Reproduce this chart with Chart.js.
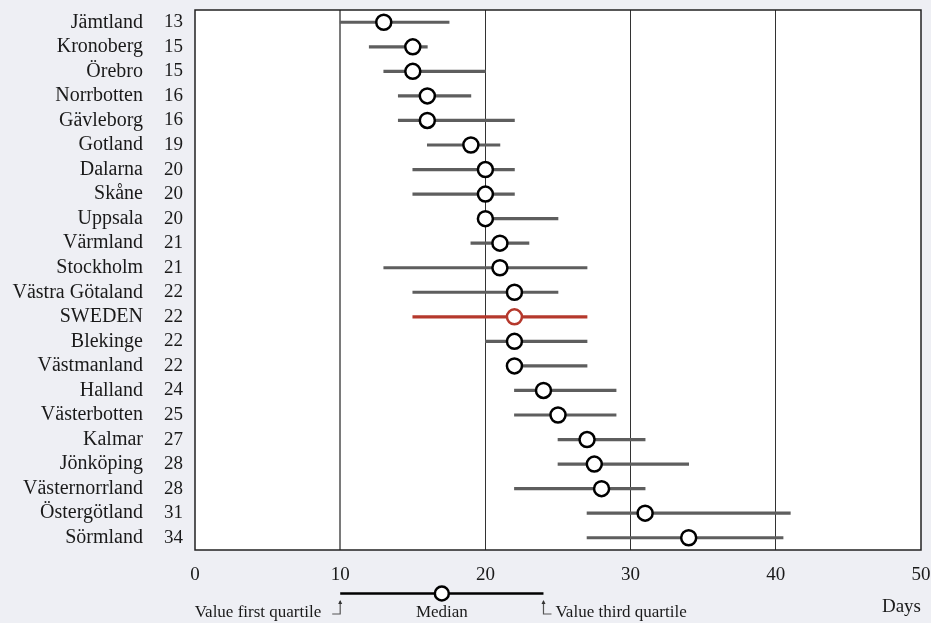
<!DOCTYPE html>
<html lang="sv">
<head>
<meta charset="UTF-8">
<title>Median days per region</title>
<script src="https://cdn.jsdelivr.net/npm/chart.js"></script>
<style>
  html, body { margin: 0; padding: 0; background: #eeeff4; }
  #wrap { width: 931px; height: 623px; }
</style>
</head>
<body>
<div id="wrap"><canvas id="chart"></canvas></div>
<script>
// data
const regions = ['Jämtland', 'Kronoberg', 'Örebro', 'Norrbotten', 'Gävleborg', 'Gotland', 'Dalarna', 'Skåne',
  'Uppsala', 'Värmland', 'Stockholm', 'Västra Götaland', 'SWEDEN', 'Blekinge', 'Västmanland', 'Halland',
  'Västerbotten', 'Kalmar', 'Jönköping', 'Västernorrland', 'Östergötland', 'Sörmland'];
const medianLabels = ['13', '15', '15', '16', '16', '19', '20', '20', '20', '21', '21', '22', '22', '22', '22',
  '24', '25', '27', '28', '28', '31', '34'];
const medians = [13, 15, 15, 16, 16, 19, 20, 20, 20, 21, 21, 22, 22, 22, 22, 24, 25, 27, 27.5, 28, 31, 34];
const q1 = [10, 12, 13, 14, 14, 16, 15, 15, 20, 19, 13, 15, 15, 20, 22, 22, 22, 25, 25, 22, 27, 27];
const q3 = [17.5, 16, 20, 19, 22, 21, 22, 22, 25, 23, 27, 25, 27, 27, 27, 29, 29, 31, 34, 31, 41, 40.5];
const xTicks = [0, 10, 20, 30, 40, 50];

// legend sample (first quartile, median, third quartile)
const legendValues = [10, 17, 24];

const FONT = 'Liberation Serif, Times New Roman, serif';
const RED = '#b5382c';
const INK = '#1a1a1a';

const isTotal = regions.map(r => r === 'SWEDEN');

const framePlugin = {
  id: 'frame',
  beforeDraw(chart) {
    const { ctx, chartArea: a } = chart;
    ctx.save();
    ctx.fillStyle = '#eeeff4';
    ctx.fillRect(0, 0, chart.width, chart.height);
    ctx.fillStyle = '#ffffff';
    ctx.fillRect(a.left, a.top, a.right - a.left, a.bottom - a.top);
    ctx.restore();
  },
  afterDraw(chart) {
    const { ctx, chartArea: a, scales } = chart;
    ctx.save();
    ctx.strokeStyle = '#222';
    ctx.lineWidth = 1.5;
    ctx.strokeRect(a.left, a.top, a.right - a.left, a.bottom - a.top);

    // legend under the axis
    const x = scales.x;
    const x1 = x.getPixelForValue(legendValues[0]);
    const xm = x.getPixelForValue(legendValues[1]);
    const x3 = x.getPixelForValue(legendValues[2]);
    const ly = 593.5;
    ctx.strokeStyle = '#000';
    ctx.lineWidth = 2.5;
    ctx.beginPath();
    ctx.moveTo(x1, ly);
    ctx.lineTo(x3, ly);
    ctx.stroke();
    ctx.beginPath();
    ctx.arc(xm, ly, 7, 0, Math.PI * 2);
    ctx.fillStyle = '#fff';
    ctx.fill();
    ctx.stroke();

    // hooks with little arrows
    ctx.strokeStyle = '#555';
    ctx.fillStyle = '#333';
    ctx.lineWidth = 1.2;
    [[x1, -1], [x3, 1]].forEach(([hx, dir]) => {
      ctx.beginPath();
      ctx.moveTo(hx, 601);
      ctx.lineTo(hx, 614);
      ctx.lineTo(hx + dir * 8, 614);
      ctx.stroke();
      ctx.beginPath();
      ctx.moveTo(hx, 600);
      ctx.lineTo(hx - 2, 604);
      ctx.lineTo(hx + 2, 604);
      ctx.closePath();
      ctx.fill();
    });

    ctx.fillStyle = INK;
    ctx.font = '17px ' + FONT;
    ctx.textBaseline = 'middle';
    ctx.textAlign = 'right';
    ctx.fillText('Value first quartile', x1 - 19, 613);
    ctx.textAlign = 'center';
    ctx.fillText('Median', xm, 613);
    ctx.textAlign = 'left';
    ctx.fillText('Value third quartile', x3 + 12, 613);
    ctx.restore();
  }
};

new Chart(document.getElementById('chart'), {
  type: 'bar',
  data: {
    labels: regions,
    datasets: [
      {
        type: 'line',
        label: 'Median',
        data: medians,
        showLine: false,
        pointRadius: 7.5,
        pointHoverRadius: 7.5,
        pointBorderWidth: 2.5,
        pointBackgroundColor: '#fff',
        pointBorderColor: isTotal.map(t => t ? RED : '#000'),
        order: 0
      },
      {
        label: 'Quartiles',
        data: q1.map((v, i) => [v, q3[i]]),
        backgroundColor: isTotal.map(t => t ? RED : '#5e5e5e'),
        barThickness: 2.5,
        order: 1
      }
    ]
  },
  options: {
    indexAxis: 'y',
    responsive: true,
    maintainAspectRatio: false,
    animation: false,
    layout: { padding: { left: 0, right: 10, top: 10, bottom: 0 } },
    plugins: {
      legend: { display: false },
      tooltip: { enabled: false }
    },
    scales: {
      x: {
        type: 'linear',
        min: 0,
        max: 50,
        afterBuildTicks: s => { s.ticks = xTicks.map(v => ({ value: v })); },
        afterFit: s => { s.height = 73; s.paddingLeft = 0; s.paddingRight = 0; },
        grid: {
          drawTicks: false,
          color: c => (c.tick.value === 0 || c.tick.value === 50) ? 'rgba(0,0,0,0)' : (c.tick.value === 10 ? '#7a7a7a' : '#333'),
          lineWidth: c => c.tick.value === 10 ? 2 : 1
        },
        border: { display: false },
        ticks: { padding: 14, color: INK, font: { family: FONT, size: 19 } },
        title: {
          display: true,
          text: 'Days',
          align: 'end',
          color: INK,
          padding: { top: 0, bottom: 5 },
          font: { family: FONT, size: 19 }
        }
      },
      y: {
        type: 'category',
        position: 'left',
        weight: 1,
        offset: true,
        afterFit: s => { s.width = 150; s.paddingTop = 0; s.paddingBottom = 0; },
        grid: { display: false, drawTicks: false },
        border: { display: false },
        ticks: { autoSkip: false, padding: 7, color: INK, font: { family: FONT, size: 20 } }
      },
      yv: {
        type: 'category',
        position: 'left',
        weight: 0,
        offset: true,
        labels: medianLabels,
        afterFit: s => { s.width = 45; s.paddingTop = 0; s.paddingBottom = 0; },
        grid: { display: false, drawTicks: false },
        border: { display: false },
        ticks: { autoSkip: false, padding: 12, color: INK, font: { family: FONT, size: 19 } }
      }
    }
  },
  plugins: [framePlugin]
});
</script>
</body>
</html>
